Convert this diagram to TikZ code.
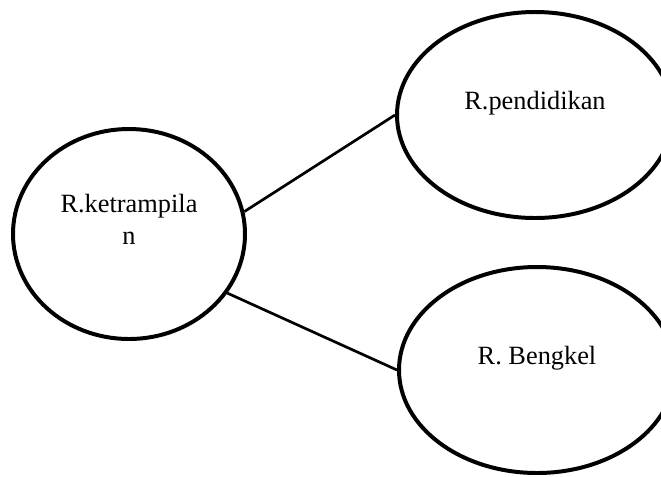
\documentclass[tikz,border=0pt]{standalone}
\usepackage{fontspec}
\setmainfont{Liberation Serif}
\usetikzlibrary{shapes.geometric, positioning}

\begin{document}
\begin{tikzpicture}[on grid, room/.style={ellipse, draw, line width=3.4pt, text depth=25pt, align=center, font=\fontsize{22.5}{27.3}\selectfont}]
	\useasboundingbox (0,0) rectangle (19.83,-14.28);

	\node[room, minimum width=6.96cm, minimum height=6.3cm]	(ket)	at (3.87,-7.02)	{R.ketrampila\\n};
	\node[room, minimum width=8.28cm, minimum height=6.18cm]	(pend)	[above right=3.57cm and 12.18cm of ket]	{R.pendidikan};
	\node[room, minimum width=8.28cm, minimum height=6.18cm]	(beng)	[below right=4.08cm and 12.24cm of ket]	{R. Bengkel};

	\draw[line width=2.3pt] (ket.11) -- (pend.west);
	\draw[line width=2.3pt] (ket.-31) -- (beng.west);
\end{tikzpicture}
\end{document}
